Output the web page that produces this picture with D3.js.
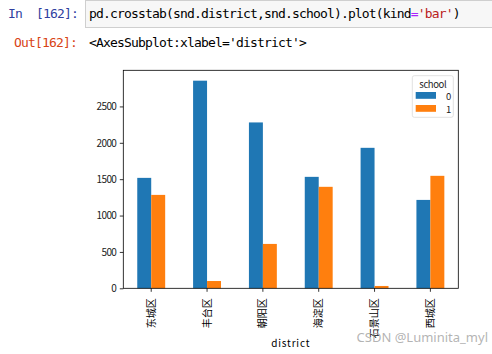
<!DOCTYPE html>
<html>
<head>
<meta charset="utf-8">
<script src="https://cdn.jsdelivr.net/npm/d3@7"></script>
<style>
  body { margin: 0; background: #fff; }
  svg { display: block; }
</style>
</head>
<body>
<div id="chart"></div>
<script>
const districts = ["东城区", "丰台区", "朝阳区", "海淀区", "石景山区", "西城区"];
const schoolKeys = ["0", "1"];
const school0 = [1518, 2854, 2280, 1532, 1931, 1215];
const school1 = [1284, 100, 610, 1395, 32, 1546];
const yTicks = [0, 500, 1000, 1500, 2000, 2500];

const W = 492, H = 354;
const colors = ["#1f77b4", "#ff7f0e"];
const cjk = "'Noto Sans CJK SC', 'Noto Sans', sans-serif";
const mono = "'DejaVu Sans Mono', 'Liberation Mono', monospace";

const svg = d3.select("#chart").append("svg")
  .attr("width", W).attr("height", H);

// notebook cell header
function monoText(x, yy, color) {
  return svg.append("text").attr("x", x).attr("y", yy)
    .attr("fill", color).style("font-family", mono).style("font-size", "13px")
    .style("letter-spacing", "-0.83px").attr("xml:space", "preserve");
}
monoText(8, 18, "#303F9F").text("In  [162]:");
svg.append("rect").attr("x", 85.5).attr("y", 0.5).attr("width", 420).attr("height", 27)
  .attr("fill", "#f7f7f7").attr("stroke", "#cfcfcf");
const code = monoText(89, 18, "#000");
code.append("tspan").text("pd.crosstab(snd.district,snd.school).plot(kind");
code.append("tspan").attr("fill", "#AA22FF").text("=");
code.append("tspan").attr("fill", "#BA2121").text("'bar'");
code.append("tspan").text(")");

monoText(14, 47, "#D84315").text("Out[162]:");
monoText(89, 47, "#000").text("<AxesSubplot:xlabel='district'>");

// axes
const axL = 123.3, axR = 458.3, axT = 70.3, axB = 288.3;

const x0 = d3.scaleBand().domain(districts).range([axL, axR]).paddingInner(0.5).paddingOuter(0.25);
const x1 = d3.scaleBand().domain(schoolKeys).range([0, x0.bandwidth()]);
const y = d3.scaleLinear().domain([0, d3.max(school0) * 1.05]).range([axB, axT]);

const series = [school0, school1];
series.forEach((vals, si) => {
  svg.append("g").selectAll("rect")
    .data(vals)
    .join("rect")
    .attr("x", (d, i) => x0(districts[i]) + x1(schoolKeys[si]))
    .attr("y", d => y(d))
    .attr("width", x1.bandwidth())
    .attr("height", d => y(0) - y(d))
    .attr("fill", colors[si]);
});

const xAxis = svg.append("g")
  .attr("transform", `translate(0,${axB})`)
  .call(d3.axisBottom(x0).tickSize(3.5).tickPadding(3.5).tickSizeOuter(0));
xAxis.select(".domain").remove();
xAxis.selectAll("line").attr("stroke", "#000").attr("stroke-width", 0.8);
xAxis.selectAll("text")
  .style("font-family", cjk).style("font-size", "10px").attr("fill", "#000")
  .attr("transform", "rotate(-90)")
  .attr("text-anchor", "end")
  .attr("x", -10).attr("y", 0).attr("dy", "0.35em");

const yAxis = svg.append("g")
  .attr("transform", `translate(${axL},0)`)
  .call(d3.axisLeft(y).tickValues(yTicks).tickFormat(d3.format("d"))
    .tickSize(3.5).tickPadding(3.5).tickSizeOuter(0));
yAxis.select(".domain").remove();
yAxis.selectAll("line").attr("stroke", "#000").attr("stroke-width", 0.8);
yAxis.selectAll("text")
  .style("font-family", cjk).style("font-size", "10px").attr("fill", "#222")
  .style("letter-spacing", "-0.6px");

svg.append("rect").attr("x", axL).attr("y", axT)
  .attr("width", axR - axL).attr("height", axB - axT)
  .attr("fill", "none").attr("stroke", "#000").attr("stroke-width", 0.8);

svg.append("text").attr("x", (axL + axR) / 2).attr("y", 347)
  .attr("text-anchor", "middle").attr("fill", "#000")
  .style("font-family", cjk).style("font-size", "10px").style("letter-spacing", "0.8px")
  .text("district");

// legend
const lg = svg.append("g");
lg.append("rect").attr("x", 412.3).attr("y", 75.7).attr("width", 41).attr("height", 41.6)
  .attr("rx", 2).attr("fill", "#fff").attr("stroke", "#d9d9d9").attr("stroke-width", 0.8);
lg.append("text").attr("x", 432.8).attr("y", 87.5).attr("text-anchor", "middle")
  .style("font-family", cjk).style("font-size", "9.5px").style("letter-spacing", "-0.4px")
  .attr("fill", "#222").text("school");
schoolKeys.forEach((k, i) => {
  lg.append("rect").attr("x", 415.7).attr("y", 92 + i * 13).attr("width", 20.3).attr("height", 6.8)
    .attr("fill", colors[i]);
  lg.append("text").attr("x", 446).attr("y", 99.5 + i * 13)
    .style("font-family", cjk).style("font-size", "9.5px").attr("fill", "#222").text(k);
});

// watermark
svg.append("text").attr("x", 488).attr("y", 342).attr("text-anchor", "end")
  .style("font-family", "'Noto Sans', sans-serif").style("font-size", "13px")
  .attr("fill", "#a6a6a6").attr("fill-opacity", 0.85).text("CSDN @Luminita_myl");
</script>
</body>
</html>
